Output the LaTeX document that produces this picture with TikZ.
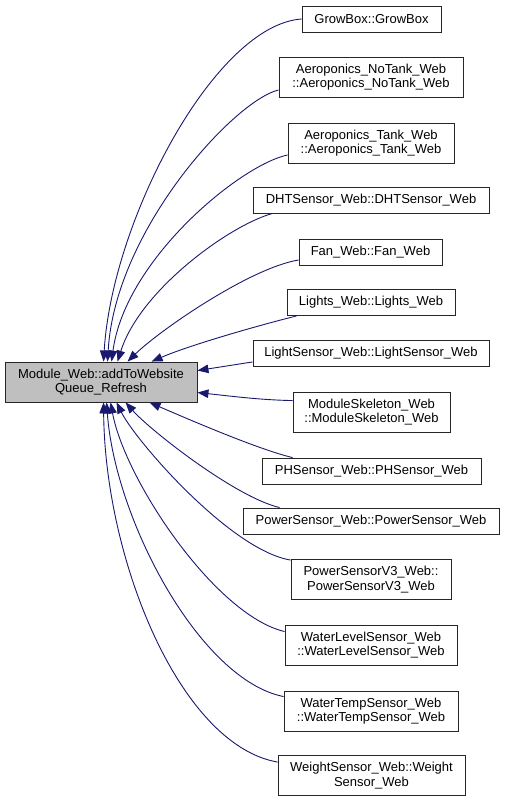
\documentclass[tikz,border=0pt]{standalone}
\usepackage{fontspec}
\setmainfont{Liberation Sans}
\usetikzlibrary{arrows.meta}
\definecolor{edgeblue}{HTML}{191970}
\definecolor{maingray}{HTML}{BFBFBF}
\begin{document}
\begin{tikzpicture}[x=1pt,y=1pt,
  box/.style={draw=black!85, line width=0.9pt, fill=white, inner sep=0pt,
    align=center, font=\fontsize{13}{14.5}\selectfont, minimum height=26pt},
  tall/.style={minimum height=40pt},
  edge/.style={draw=edgeblue, line width=0.9pt,
    -{Triangle[length=11pt,width=8.5pt]}, fill=none}]
\useasboundingbox (0,0) rectangle (504,-802);
\fill[white] (0,0) rectangle (504,-802);

\node[box,tall,fill=maingray,minimum width=192pt] (main) at (101,-382)
  {Module\_Web::addToWebsite\\Queue\_Refresh};

\node[box,minimum width=139pt] (g1) at (371.5,-19) {GrowBox::GrowBox};
\node[box,tall,minimum width=184pt] (g2) at (371,-77) {Aeroponics\_NoTank\_Web\\::Aeroponics\_NoTank\_Web};
\node[box,tall,minimum width=166pt] (g3) at (371,-143) {Aeroponics\_Tank\_Web\\::Aeroponics\_Tank\_Web};
\node[box,minimum width=236pt] (g4) at (371,-200) {DHTSensor\_Web::DHTSensor\_Web};
\node[box,minimum width=143pt] (g5) at (370.5,-252) {Fan\_Web::Fan\_Web};
\node[box,minimum width=168pt] (g6) at (371,-302.5) {Lights\_Web::Lights\_Web};
\node[box,minimum width=236pt] (g7) at (371,-353.5) {LightSensor\_Web::LightSensor\_Web};
\node[box,tall,minimum width=157pt] (g8) at (371.5,-412) {ModuleSkeleton\_Web\\::ModuleSkeleton\_Web};
\node[box,minimum width=219pt] (g9) at (371.5,-471) {PHSensor\_Web::PHSensor\_Web};
\node[box,minimum width=256pt] (g10) at (371,-521) {PowerSensor\_Web::PowerSensor\_Web};
\node[box,tall,minimum width=160pt] (g11) at (371,-579.5) {PowerSensorV3\_Web::\\PowerSensorV3\_Web};
\node[box,tall,minimum width=172pt] (g12) at (371,-645) {WaterLevelSensor\_Web\\::WaterLevelSensor\_Web};
\node[box,tall,minimum width=174pt] (g13) at (371,-711) {WaterTempSensor\_Web\\::WaterTempSensor\_Web};
\node[box,tall,minimum width=187pt] (g14) at (371.5,-775.5) {WeightSensor\_Web::Weight\\Sensor\_Web};

% top edges
\path[edge] (g1.west) .. controls (215,-25) and (112,-220) .. ([xshift=99pt]main.north west);
\path[edge] ([yshift=-13pt]g2.west) .. controls (235,-100) and (115,-230) .. ([xshift=103pt]main.north west);
\path[edge] ([yshift=-12pt]g3.west) .. controls (240,-165) and (125,-260) .. ([xshift=107pt]main.north west);
\path[edge] ([xshift=20pt]g4.south west) .. controls (230,-225) and (140,-290) .. ([xshift=113pt]main.north west);
\path[edge] ([yshift=-8pt]g5.west) .. controls (250,-268) and (160,-330) .. ([xshift=123pt]main.north west);
\path[edge] ([xshift=10pt]g6.south west) .. controls (260,-325) and (190,-345) .. ([xshift=147pt]main.north west);
% side edges
\path[edge] ([yshift=5pt]g7.south west) -- ([yshift=-9pt]main.north east);
\path[edge] ([yshift=-9pt]g8.north west) .. controls (260,-400) and (230,-396) .. ([yshift=-31pt]main.north east);
% bottom edges
\path[edge] ([xshift=31pt]g9.north west) .. controls (260,-450) and (190,-420) .. ([xshift=145pt]main.south west);
\path[edge] ([xshift=37pt]g10.north west) .. controls (235,-497) and (150,-430) .. ([xshift=121pt]main.south west);
\path[edge] ([yshift=-1pt]g11.north west) .. controls (230,-550) and (135,-440) .. ([xshift=112pt]main.south west);
\path[edge] ([yshift=-7pt]g12.north west) .. controls (215,-615) and (125,-480) .. ([xshift=106pt]main.south west);
\path[edge] ([yshift=-6pt]g13.north west) .. controls (200,-680) and (115,-520) .. ([xshift=102pt]main.south west);
\path[edge] ([yshift=-7pt]g14.north west) .. controls (180,-745) and (105,-560) .. ([xshift=99pt]main.south west);
\end{tikzpicture}
\end{document}
